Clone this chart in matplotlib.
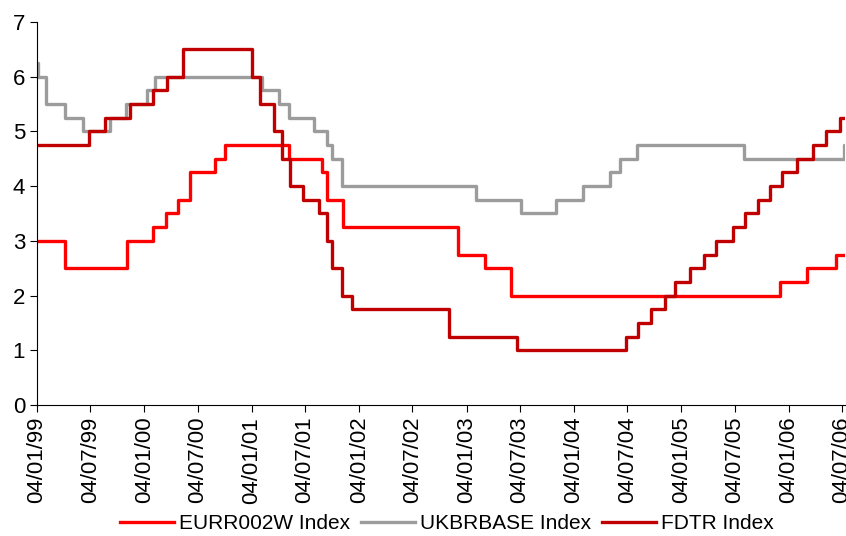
import pandas as pd
import matplotlib.pyplot as plt
import matplotlib.dates as mdates

plt.rcParams['font.family'] = ['Liberation Sans', 'DejaVu Sans']

# --- datos: fechas de cambio y niveles (escalones) ---
eur_fechas = ['1999-01-04', '1999-04-09', '1999-11-05', '2000-02-04', '2000-03-17',
              '2000-04-28', '2000-06-09', '2000-09-01', '2000-10-06', '2001-05-11',
              '2001-08-31', '2001-09-18', '2001-11-09', '2002-12-06', '2003-03-07',
              '2003-06-06', '2005-12-06', '2006-03-08', '2006-06-15']
eur_nivel = [3.0, 2.5, 3.0, 3.25, 3.5, 3.75, 4.25, 4.5, 4.75, 4.5,
             4.25, 3.75, 3.25, 2.75, 2.5, 2.0, 2.25, 2.5, 2.75]

uk_fechas = ['1999-01-04', '1999-01-07', '1999-02-04', '1999-04-08', '1999-06-10',
             '1999-09-08', '1999-11-04', '2000-01-13', '2000-02-10', '2001-02-08',
             '2001-04-05', '2001-05-10', '2001-08-02', '2001-09-18', '2001-10-04',
             '2001-11-08', '2003-02-06', '2003-07-10', '2003-11-06', '2004-02-05',
             '2004-05-06', '2004-06-10', '2004-08-05', '2005-08-04', '2006-07-10']
uk_nivel = [6.25, 6.0, 5.5, 5.25, 5.0, 5.25, 5.5, 5.75, 6.0, 5.75,
            5.5, 5.25, 5.0, 4.75, 4.5, 4.0, 3.75, 3.5, 3.75, 4.0,
            4.25, 4.5, 4.75, 4.5, 4.75]

fed_fechas = ['1999-01-04', '1999-06-30', '1999-08-24', '1999-11-16', '2000-02-02',
              '2000-03-21', '2000-05-16', '2001-01-03', '2001-01-31', '2001-03-20',
              '2001-04-18', '2001-05-15', '2001-06-27', '2001-08-21', '2001-09-17',
              '2001-10-02', '2001-11-06', '2001-12-11', '2002-11-06', '2003-06-25',
              '2004-06-30', '2004-08-10', '2004-09-21', '2004-11-10', '2004-12-14',
              '2005-02-02', '2005-03-22', '2005-05-03', '2005-06-30', '2005-08-09',
              '2005-09-20', '2005-11-01', '2005-12-13', '2006-01-31', '2006-03-28',
              '2006-05-10', '2006-06-29']
fed_nivel = [4.75, 5.0, 5.25, 5.5, 5.75, 6.0, 6.5, 6.0, 5.5, 5.0,
             4.5, 4.0, 3.75, 3.5, 3.0, 2.5, 2.0, 1.75, 1.25, 1.0,
             1.25, 1.5, 1.75, 2.0, 2.25, 2.5, 2.75, 3.0, 3.25, 3.5,
             3.75, 4.0, 4.25, 4.5, 4.75, 5.0, 5.25]

fecha_fin = pd.Timestamp('2006-07-14')
etiquetas_x = [pd.Timestamp(f'{a}-{m:02d}-04') for a in range(1999, 2007) for m in (1, 7)]


def serie(fechas, nivel):
    f = list(pd.to_datetime(fechas)) + [fecha_fin]
    v = list(nivel) + [nivel[-1]]
    return f, v


fig = plt.figure(figsize=(8.46, 5.36), dpi=100)
ax = fig.add_axes([0.0437, 0.2444, 0.955, 0.7146])

for fechas, nivel, color, nombre in [
        (eur_fechas, eur_nivel, '#FF0000', 'EURR002W Index'),
        (uk_fechas, uk_nivel, '#9C9C9C', 'UKBRBASE Index'),
        (fed_fechas, fed_nivel, '#C00000', 'FDTR Index')]:
    f, v = serie(fechas, nivel)
    ax.step(f, v, where='post', color=color, linewidth=2.4, label=nombre)

ax.set_ylim(0, 7)
ax.set_xlim(pd.Timestamp('1999-01-04'), fecha_fin)
ax.set_yticks(range(0, 8))
ax.set_xticks(etiquetas_x)
ax.xaxis.set_major_formatter(mdates.DateFormatter('%d/%m/%y'))
ax.tick_params(axis='x', rotation=90, labelsize=16, length=5, direction='out')
ax.tick_params(axis='y', labelsize=16, length=5, direction='out')
for lado in ['top', 'right']:
    ax.spines[lado].set_visible(False)

fig.legend(loc='lower center', bbox_to_anchor=(0.528, -0.03), ncol=3, frameon=False,
           fontsize=15, handlelength=2.6, columnspacing=0.5, handletextpad=0.25)

fig.savefig('out.png', dpi=100)
